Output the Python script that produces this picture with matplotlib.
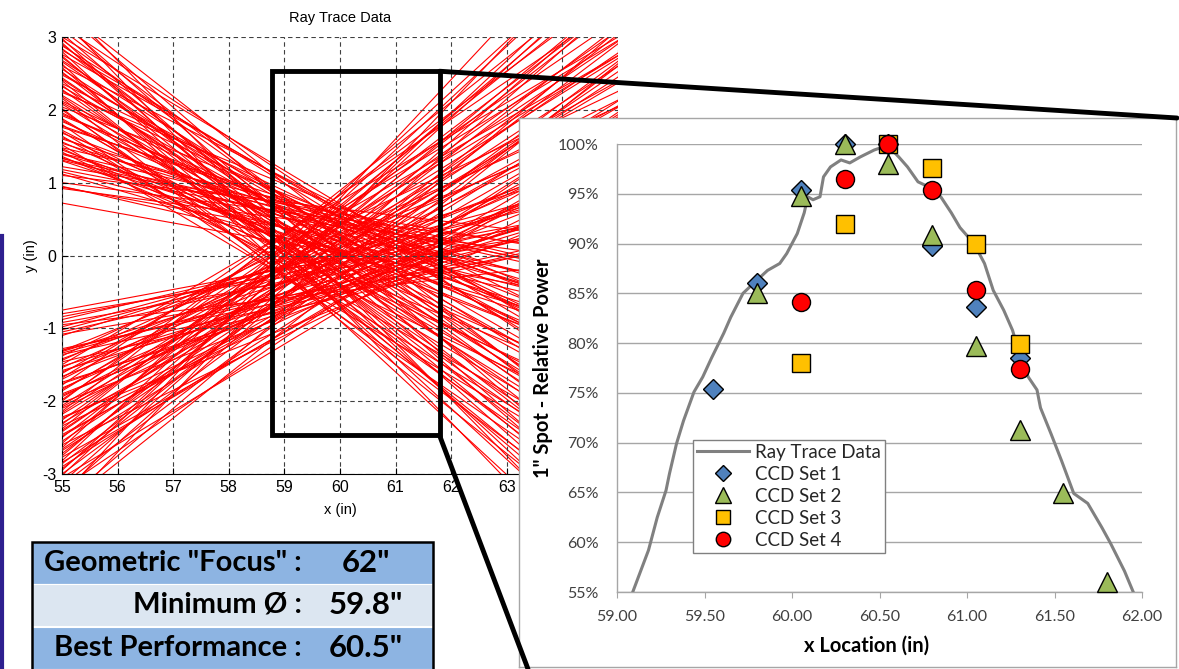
import matplotlib
matplotlib.use("Agg")
import matplotlib.pyplot as plt
from matplotlib.patches import Rectangle, ConnectionPatch
from matplotlib.lines import Line2D
from matplotlib.ticker import FuncFormatter

plt.rcParams["axes.unicode_minus"] = False

W, H = 1179, 669

# ray trace data (left plot): each ray given by its y at x=55 and at x=61
down_y55 = [3.45, 3.35, 3.25, 3.15, 3.05, 3.0, 2.96, 2.92, 2.88, 2.84, 2.8, 2.76, 2.72, 2.68,
            2.63, 2.6, 2.56, 2.52, 2.48, 2.44, 2.4, 2.36, 2.32, 2.28, 2.24, 2.2, 2.16, 2.12,
            2.08, 2.04, 2.0, 1.96, 1.92, 1.88, 1.84, 1.8, 1.76, 1.72, 1.68, 1.64, 1.6, 1.56,
            1.52, 1.48, 1.45, 1.42, 1.39, 1.36, 1.33, 1.3, 1.22, 1.15, 1.1, 0.95, 0.92, 0.72,
            3.38, 3.2, 3.1, 2.98, 2.9, 2.82, 2.74, 2.66, 2.58, 2.5, 2.42, 2.34, 2.26, 2.18,
            2.1, 2.02, 1.94, 1.86, 1.78, 1.7, 1.62, 1.54, 1.47, 1.4, 1.34, 1.31, 1.18, 1.12,
            1.0, 0.94]
down_y61 = [-1.2, -0.6, -1.5, 0.1, -0.9, 0.25, -0.3, -1.1, 0.05, -0.5, -1.4, 0.2, -0.8, -0.2,
            -1.6, 0.3, -0.4, -1.0, 0.0, -0.7, -1.3, 0.15, -0.25, -0.95, 0.35, -0.55, -1.5, -0.1,
            -0.75, 0.25, -1.2, -0.35, 0.1, -0.85, -0.15, -1.35, 0.3, -0.6, -0.05, -1.0, 0.2, -0.45,
            -1.2, 0.4, -0.3, -0.8, 0.1, -0.55, 0.3, -0.2, 0.45, 0.0, 0.55, -0.1, 0.3, -0.1,
            -0.2, -0.8, -0.35, -1.25, -0.65, 0.15, -1.05, -0.45, -1.3, -0.15, -0.6, -1.15, 0.1,
            -0.9, -0.4, -1.4, 0.0, -0.7, 0.2, -1.1, -0.25, 0.15, -0.65, 0.35, -0.1, 0.2, 0.3,
            -0.2, 0.4, 0.1]
up_y55 = [-3.5, -3.4, -3.3, -3.2, -3.12, -3.05, -3.0, -2.95, -2.9, -2.86, -2.82, -2.77, -2.72,
          -2.68, -2.64, -2.6, -2.55, -2.5, -2.46, -2.42, -2.38, -2.34, -2.3, -2.26, -2.22, -2.18,
          -2.14, -2.1, -2.06, -2.02, -1.98, -1.94, -1.9, -1.86, -1.82, -1.78, -1.74, -1.7, -1.66,
          -1.62, -1.58, -1.54, -1.5, -1.46, -1.42, -1.38, -1.34, -1.31, -1.28, -1.1, -1.05, -0.98,
          -0.92, -0.88, -0.8, -0.75,
          -3.45, -3.25, -3.15, -3.02, -2.93, -2.84, -2.75, -2.66, -2.58, -2.48, -2.4, -2.32,
          -2.24, -2.16, -2.08, -2.0, -1.92, -1.84, -1.76, -1.68, -1.6, -1.52, -1.44, -1.36,
          -1.32, -1.3, -1.08, -1.02, -0.95, -0.84]
up_y61 = [1.3, 0.5, 1.6, -0.1, 0.9, -0.3, 0.4, 1.2, 0.0, 0.6, 1.45, -0.2, 0.8, 0.2, 1.55, -0.35,
          0.45, 1.05, 0.05, 0.7, 1.3, -0.15, 0.3, 0.95, -0.4, 0.55, 1.5, 0.1, 0.8, -0.25, 1.15,
          0.35, -0.1, 0.9, 0.15, 1.35, -0.3, 0.6, 0.05, 1.0, -0.2, 0.5, 1.2, -0.4, 0.3, 0.8, -0.1,
          0.55, -0.3, 0.35, 0.0, 0.25, -0.1, 0.2, -0.05, 0.1,
          0.2, 0.8, 0.3, 1.25, 0.65, -0.15, 1.05, 0.45, 1.3, 0.15, 0.6, 1.15, -0.1, 0.9, 0.4,
          1.4, 0.0, 0.7, -0.2, 1.1, 0.25, -0.15, 0.65, -0.35, 0.1, -0.2, -0.3, 0.2, -0.4, 0.05]

# x tick labels of the ray plot (64 and 65 sit under the inset)
ray_xticks = list(range(55, 66))
ray_xlabels = ["55", "56", "57", "58", "59", "60", "61", "62", "63", "", ""]

# zoomed window drawn on the ray plot
box_x = [58.77, 61.79]
box_y = [-2.47, 2.53]

# inset: relative power vs x location
trace_x = [59.09, 59.18, 59.23, 59.28, 59.30, 59.34, 59.38, 59.44, 59.49, 59.54, 59.61, 59.65,
           59.72, 59.78, 59.86, 59.93, 59.97, 60.03, 60.07, 60.09, 60.12, 60.16, 60.18, 60.22,
           60.28, 60.33, 60.39, 60.47, 60.52, 60.56, 60.61, 60.66, 60.72, 60.78, 60.85, 60.91,
           60.96, 61.04, 61.10, 61.15, 61.21, 61.26, 61.31, 61.35, 61.40, 61.42, 61.48, 61.54,
           61.61, 61.69, 61.77, 61.82, 61.90, 61.95]
trace_y = [55.0, 59.2, 62.5, 65.2, 66.9, 69.9, 72.2, 75.1, 76.6, 78.5, 81.0, 82.6, 85.0, 86.0,
           87.3, 88.0, 89.0, 91.0, 93.1, 94.7, 94.4, 94.7, 96.7, 97.7, 98.4, 98.1, 98.7, 99.4,
           99.7, 99.6, 98.7, 97.7, 96.2, 95.7, 94.7, 93.1, 91.6, 90.0, 88.0, 85.3, 83.3, 81.3,
           78.3, 76.6, 75.3, 73.5, 70.9, 68.2, 64.9, 63.9, 61.5, 59.9, 57.1, 55.0]

set1_x = [59.55, 59.80, 60.05, 60.30, 60.55, 60.80, 61.05, 61.30]
set1_y = [75.4, 86.0, 95.4, 100.0, 100.0, 89.8, 83.6, 78.5]
set2_x = [59.80, 60.05, 60.30, 60.55, 60.80, 61.05, 61.30, 61.55, 61.80]
set2_y = [85.0, 94.8, 100.0, 98.0, 90.9, 79.7, 71.3, 64.9, 56.0]
set3_x = [60.05, 60.30, 60.55, 60.80, 61.05, 61.30]
set3_y = [78.0, 92.0, 100.0, 97.6, 90.0, 79.9]
set4_x = [60.05, 60.30, 60.55, 60.80, 61.05, 61.30]
set4_y = [84.1, 96.5, 100.0, 95.4, 85.3, 77.4]

table_labels = ['Geometric "Focus" :', 'Minimum Ø :', 'Best Performance :']
table_values = ['62"', '59.8"', '60.5"']


def px_box(x0, y0, x1, y1):
    return [x0 / W, 1 - y1 / H, (x1 - x0) / W, (y1 - y0) / H]


fig = plt.figure(figsize=(W / 100, H / 100), dpi=100)

# ---- left: ray trace plot (MATLAB style)
ax = fig.add_axes(px_box(62, 37, 618, 474))
ax.set_xlim(55, 65)
ax.set_ylim(-3, 3)
for a, w in zip(down_y55, down_y61):
    ax.axline((55, a), (61, w), color="#ff0000", lw=0.8, zorder=2)
for a, w in zip(up_y55, up_y61):
    ax.axline((55, a), (61, w), color="#ff0000", lw=0.8, zorder=2)
ax.set_xticks(ray_xticks)
ax.set_xticklabels(ray_xlabels)
ax.set_yticks(range(-3, 4))
ax.set_axisbelow(False)
ax.grid(True, color="#404040", ls=(0, (4, 3)), lw=0.8)
ax.spines["top"].set_visible(False)
ax.spines["right"].set_visible(False)
ax.tick_params(direction="in", length=4, labelsize=11.5, pad=4)
for lab in ax.get_xticklabels() + ax.get_yticklabels():
    lab.set_family("Liberation Sans")
ax.set_title("Ray Trace Data", fontsize=10.5, family="Liberation Sans", pad=11)
ax.set_xlabel("x (in)", fontsize=10.5, family="Liberation Sans", labelpad=6)
ax.set_ylabel("y (in)", fontsize=10.5, family="Liberation Sans", labelpad=3)
ax.add_patch(Rectangle((box_x[0], box_y[0]), box_x[1] - box_x[0], box_y[1] - box_y[0],
                       fill=False, ec="black", lw=3.5, zorder=6, clip_on=False))

# ---- inset panel
panel = fig.add_axes(px_box(519, 118, 1176, 667))
panel.set_zorder(2)
panel.set_xticks([])
panel.set_yticks([])
for s in panel.spines.values():
    s.set_color("#a6a6a6")
    s.set_linewidth(1)

ins = fig.add_axes(px_box(617, 144, 1142, 592))
ins.set_zorder(3)
ins.set_facecolor("none")
ins.plot(trace_x, trace_y, color="#808080", lw=2.2, label="Ray Trace Data", zorder=3)
mk = dict(ls="none", mec="black", mew=1.0, clip_on=False, zorder=4)
ins.plot(set1_x, set1_y, marker="D", ms=10, mfc="#4f81bd", label="CCD Set 1", **mk)
ins.plot(set2_x, set2_y, marker="^", ms=14, mfc="#9bbb59", label="CCD Set 2", **mk)
ins.plot(set3_x, set3_y, marker="s", ms=13, mfc="#ffc000", label="CCD Set 3", **mk)
ins.plot(set4_x, set4_y, marker="o", ms=13, mfc="#ff0000", label="CCD Set 4", **mk)
ins.set_xlim(59, 62)
ins.set_ylim(55, 100)
ins.set_xticks([59.0, 59.5, 60.0, 60.5, 61.0, 61.5, 62.0])
ins.set_yticks(range(55, 101, 5))
ins.xaxis.set_major_formatter(FuncFormatter(lambda v, p: f"{v:.2f}"))
ins.yaxis.set_major_formatter(FuncFormatter(lambda v, p: f"{v:.0f}%"))
ins.grid(axis="y", color="#a6a6a6", lw=1)
ins.set_axisbelow(True)
for s in ["top", "right"]:
    ins.spines[s].set_visible(False)
for s in ["left", "bottom"]:
    ins.spines[s].set_color("#a6a6a6")
    ins.spines[s].set_linewidth(1)
ins.tick_params(axis="x", direction="out", length=4, color="#a6a6a6", pad=9,
                labelsize=11.5, labelcolor="#404040")
ins.tick_params(axis="y", length=0, pad=13, labelsize=11.5, labelcolor="#404040")
for lab in ins.get_xticklabels() + ins.get_yticklabels():
    lab.set_family("Lato")
ins.set_ylabel('1" Spot - Relative Power', fontsize=14.5, fontweight="bold", family="Lato")
ins.yaxis.set_label_coords(-0.121, 0.5)
ins.set_xlabel("x Location (in)", fontsize=14.5, fontweight="bold", family="Lato")
ins.xaxis.set_label_coords(0.476, -0.098)
leg = ins.legend(loc="upper left", bbox_to_anchor=(693 / W, 1 - 440 / H),
                 bbox_transform=fig.transFigure, borderaxespad=0, fancybox=False,
                 framealpha=1, edgecolor="#808080", prop={"family": "Lato", "size": 13.5},
                 labelspacing=0.27, handlelength=2.8, handletextpad=0.3, borderpad=0.2,
                 markerscale=0.8)
leg.get_frame().set_linewidth(1)
for t in leg.get_texts():
    t.set_color("#262626")

# ---- zoom connectors
for yb, target in [(box_y[1], (1177, 118)), (box_y[0], (528, 669))]:
    con = ConnectionPatch(xyA=(box_x[1], yb), coordsA=ax.transData,
                          xyB=(target[0] / W, 1 - target[1] / H), coordsB=fig.transFigure,
                          color="black", lw=3.5, zorder=6)
    fig.add_artist(con)

# ---- summary table
row_tops = [542, 584, 627]
row_colors = ["#8db4e2", "#dce6f1", "#8db4e2"]
for top, col, lab, val in zip(row_tops, row_colors, table_labels, table_values):
    fig.add_artist(Rectangle((32 / W, 1 - (top + 42) / H), 401 / W, 42 / H,
                             transform=fig.transFigure, fc=col, ec="white", lw=0.8))
    yc = 1 - (top + 21) / H
    fig.text(302 / W, yc, lab, ha="right", va="center", fontsize=21, fontweight="bold",
             family="Lato", color="black")
    fig.text(366 / W, yc, val, ha="center", va="center", fontsize=22.5, fontweight="bold",
             family="Lato", color="black")
fig.add_artist(Rectangle((32 / W, -0.01), 401 / W, 1 - 542 / H + 0.01,
                         transform=fig.transFigure, fill=False, ec="black", lw=1.8))

# slide border on the left
fig.add_artist(Line2D([2 / W, 2 / W], [0, 1 - 236 / H], color="#2e1f8f", lw=3))

fig.savefig("out.png", dpi=100)
